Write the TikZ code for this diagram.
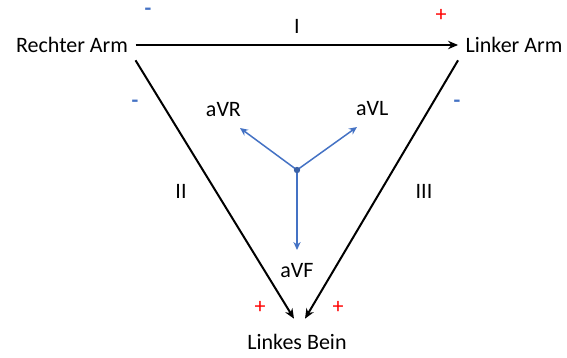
\documentclass[tikz,border=0pt]{standalone}
\usepackage{fontspec}
\setmainfont{Carlito}
\definecolor{leadBlue}{HTML}{4472C4}
\definecolor{leadRed}{HTML}{FF0000}
\usetikzlibrary{arrows.meta,positioning}

\begin{document}
\begin{tikzpicture}[x=0.5pt, y=-0.5pt,
		font=\fontsize{11}{13}\selectfont,
		limb/.style={inner sep=3.6pt},
		lead/.style={-{Stealth[length=5pt,width=4.2pt]}, line width=1pt},
		vec/.style={-{Stealth[length=4pt,width=3.6pt]}, line width=0.75pt, draw=leadBlue},
		minusmark/.style={text=leadBlue, inner sep=0pt, font=\fontsize{11}{13}\selectfont\bfseries},
		plusmark/.style={text=leadRed, inner sep=0pt}
	]
		\useasboundingbox (0,0) rectangle (567,358);
		% Extremitaeten
		\node[limb] (rechts) at (72,45) {Rechter Arm};
		\node[limb] (links) at (514,45) {Linker Arm};
		\node[limb] (bein) at (297,342) {Linkes Bein};
		% Einthoven-Ableitungen
		\draw[lead] (rechts.east) -- node[above=2pt] (ablI) {I} (links.west);
		\draw[lead] (rechts.south east) -- ([xshift=-1.5pt,yshift=4pt]bein.north);
		\draw[lead] (links.south west) -- ([xshift=4pt,yshift=4pt]bein.north);
		\node (ablII) at (181,191) {II};
		\node (ablIII) at (424,191) {III};
		% Polaritaet
		\node[minusmark] (mR) at (148,12) {-};
		\node[plusmark] (pL) at (441,15) {+};
		\node[minusmark] (mII) at (135,104) {-};
		\node[minusmark] (mIII) at (457,104) {-};
		\node[plusmark] (pII) at (260,307) {+};
		\node[plusmark] (pIII) at (338,307) {+};
		% Goldberger-Ableitungen
		\coordinate (mitte) at (297,170);
		\coordinate (tipR) at (240,128);
		\coordinate (tipL) at (357,127);
		\coordinate (tipF) at (297,250);
		\node[above left=2pt and -4pt of tipR] (avr) {aVR};
		\node[above right=2pt and -4pt of tipL] (avl) {aVL};
		\node[below=3pt of tipF] (avf) {aVF};
		\draw[vec] (mitte) -- (tipR);
		\draw[vec] (mitte) -- (tipL);
		\draw[vec] (mitte) -- (tipF);
		\fill[leadBlue!85!black] (mitte) circle (1.6pt);
	\end{tikzpicture}
\end{document}
